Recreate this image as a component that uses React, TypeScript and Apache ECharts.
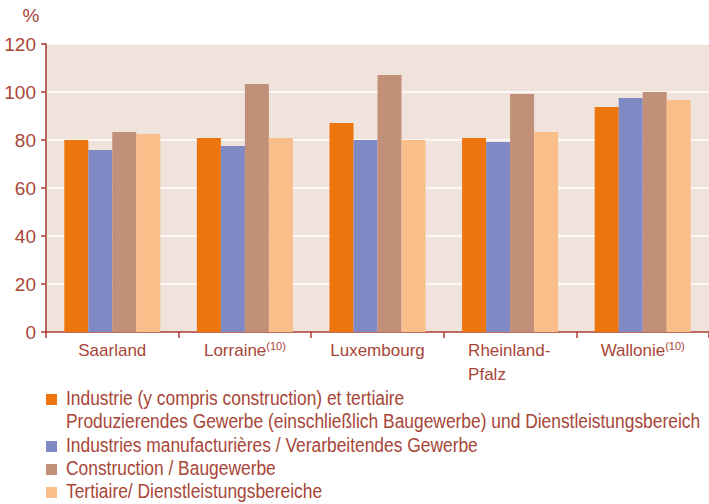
import React, { useEffect, useRef } from 'react';
import * as echarts from 'echarts';

const categories = ['Saarland', 'Lorraine', 'Luxembourg', 'Rheinland-\nPfalz', 'Wallonie'];
const categoryNotes = ['', '(10)', '', '', '(10)'];
const seriesNames = [
  'Industrie (y compris construction) et tertiaire\nProduzierendes Gewerbe (einschließlich Baugewerbe) und Dienstleistungsbereich',
  'Industries manufacturières / Verarbeitendes Gewerbe',
  'Construction / Baugewerbe',
  'Tertiaire/ Dienstleistungsbereiche',
];
const colors = ['#EE750E', '#7F8AC4', '#C28F78', '#F9BE8A'];
const industrie = [80, 80.8, 87.1, 80.8, 93.8];
const manufacturing = [75.8, 77.5, 80, 79.2, 97.5];
const construction = [83.3, 103.3, 107.1, 99.2, 100];
const tertiaire = [82.5, 80.8, 80, 83.3, 96.7];
const seriesValues = [industrie, manufacturing, construction, tertiaire];
const yMin = 0;
const yMax = 120;
const yStep = 20;
const unit = '%';

const TEXT = '#A84638';
const AXIS = '#A83A2C';
const FONT = '"Liberation Sans", Arial, sans-serif';

export default function App() {
  const ref = useRef<HTMLDivElement>(null);
  useEffect(() => {
    if (!ref.current) return;
    const chart = echarts.init(ref.current, undefined, { renderer: 'svg' });

    const legendChildren: any[] = [];
    const squareTops = [394, 441, 464, 487];
    seriesNames.forEach((name, i) => {
      const top = squareTops[i];
      legendChildren.push({
        type: 'rect',
        shape: { x: 46, y: top, width: 11, height: 11 },
        style: { fill: colors[i] },
      });
      name.split('\n').forEach((line, j) => {
        legendChildren.push({
          type: 'text',
          x: 66,
          y: top + 4 + j * 23,
          scaleX: 0.87,
          style: {
            text: line,
            fill: TEXT,
            font: `20px ${FONT}`,
            textAlign: 'left',
            textVerticalAlign: 'middle',
          },
        });
      });
    });

    chart.setOption({
      animation: false,
      textStyle: { fontFamily: FONT },
      grid: {
        left: 46,
        top: 44,
        right: 0,
        height: 288,
        show: true,
        backgroundColor: '#F0E3DB',
        borderWidth: 0,
        containLabel: false,
      },
      xAxis: {
        type: 'category',
        data: categories,
        axisLine: { lineStyle: { color: AXIS, width: 1.5 } },
        axisTick: { show: true, length: 6, lineStyle: { color: AXIS, width: 1.5 } },
        axisLabel: {
          interval: 0,
          margin: 6,
          color: TEXT,
          fontSize: 17,
          fontFamily: FONT,
          formatter: (value: string, idx: number) => {
            if (value.indexOf('\n') >= 0) {
              return value.split('\n').map((l) => `{w|${l}}`).join('\n');
            }
            const note = categoryNotes[idx];
            return `{n|${value}}` + (note ? `{sup|${note}}` : '');
          },
          rich: {
            n: { fontSize: 17, color: TEXT, fontFamily: FONT, lineHeight: 24 },
            w: { fontSize: 17, color: TEXT, fontFamily: FONT, lineHeight: 24, width: 84, align: 'left' },
            sup: { fontSize: 11, color: TEXT, fontFamily: FONT, padding: [0, 0, 8, 0] },
          },
        },
      },
      yAxis: {
        type: 'value',
        min: yMin,
        max: yMax,
        interval: yStep,
        axisLine: { show: true, lineStyle: { color: AXIS, width: 1.5 } },
        axisTick: { show: true, length: 5, lineStyle: { color: AXIS, width: 1.5 } },
        axisLabel: { color: TEXT, fontSize: 19, fontFamily: FONT, margin: 10 },
        splitLine: { show: true, lineStyle: { color: '#FFFFFF', width: 1.5 } },
      },
      legend: { show: false },
      series: seriesValues.map((vals, i) => ({
        type: 'bar',
        name: seriesNames[i],
        data: vals,
        barWidth: 24,
        barGap: '0%',
        itemStyle: { color: colors[i] },
      })),
      graphic: [
        {
          type: 'text',
          x: 31,
          y: 15,
          style: {
            text: unit,
            fill: TEXT,
            font: `19px ${FONT}`,
            textAlign: 'center',
            textVerticalAlign: 'middle',
          },
        },
        { type: 'group', children: legendChildren },
      ],
    });
    return () => chart.dispose();
  }, []);
  return (
    <div
      ref={ref}
      style={{ position: 'fixed', left: 0, top: 0, width: '709px', height: '504px', background: '#fff' }}
    />
  );
}
